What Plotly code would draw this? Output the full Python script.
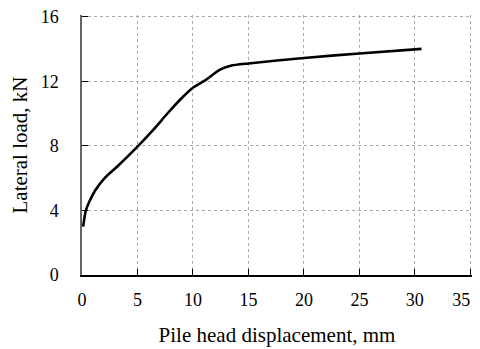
import plotly.graph_objects as go

displacement_mm = [0.1, 0.35, 0.7, 1.2, 2.1, 3.3, 5.0, 6.5, 7.7, 8.9, 10.0, 11.1, 12.4, 13.4, 15.0, 20.0, 25.0, 30.6]
lateral_load_kN = [3.0, 4.0, 4.6, 5.25, 6.05, 6.8, 7.95, 9.05, 10.0, 10.9, 11.6, 12.05, 12.7, 12.96, 13.1, 13.44, 13.72, 14.0]

x_ticks = [0, 5, 10, 15, 20, 25, 30, 35]
y_ticks = [0, 4, 8, 12, 16]

# last label padded so it is not cut at the window edge
x_tick_text = [str(v) for v in x_ticks]
x_tick_text[-1] = x_tick_text[-1] + "\u00a0\u00a0\u00a0\u00a0"

tick_font = dict(family="Liberation Serif, Times New Roman, serif", size=18, color="black")
title_font = dict(family="Liberation Serif, Times New Roman, serif", size=21, color="black")

fig = go.Figure()
fig.add_trace(go.Scatter(
    x=displacement_mm, y=lateral_load_kN, mode="lines",
    line=dict(color="black", width=2.6, shape="spline", smoothing=0.6),
    showlegend=False,
))

# page body has an 8px margin, so the figure is sized/offset to compensate
fig.update_layout(
    width=472, height=341,
    margin=dict(l=74, r=8, t=7, b=74),
    paper_bgcolor="white", plot_bgcolor="white",
    font=tick_font,
)
fig.update_xaxes(
    range=[0, 35.15], tickvals=x_ticks, ticktext=x_tick_text,
    ticks="inside", ticklen=6, tickcolor="black",
    showline=True, linecolor="black", linewidth=1.5,
    showgrid=True, gridcolor="#aaaaaa", griddash="dot", gridwidth=1,
    zeroline=False, ticklabelstandoff=8, automargin=False, tickfont=tick_font,
    ticklabeloverflow="allow",
    title=dict(text="Pile head displacement, mm", standoff=18, font=title_font),
)
fig.update_yaxes(
    range=[0, 16.1], tickvals=y_ticks, ticks="inside", ticklen=6, tickcolor="black",
    showline=True, linecolor="#666666", linewidth=1.5,
    showgrid=True, gridcolor="#aaaaaa", griddash="dot", gridwidth=1,
    zeroline=False, ticklabelstandoff=18, automargin=False, tickfont=tick_font,
    ticklabeloverflow="allow",
    title=dict(text="\u00a0\u00a0Lateral load, kN", standoff=14, font=title_font),
)

fig.write_html("out.html")
